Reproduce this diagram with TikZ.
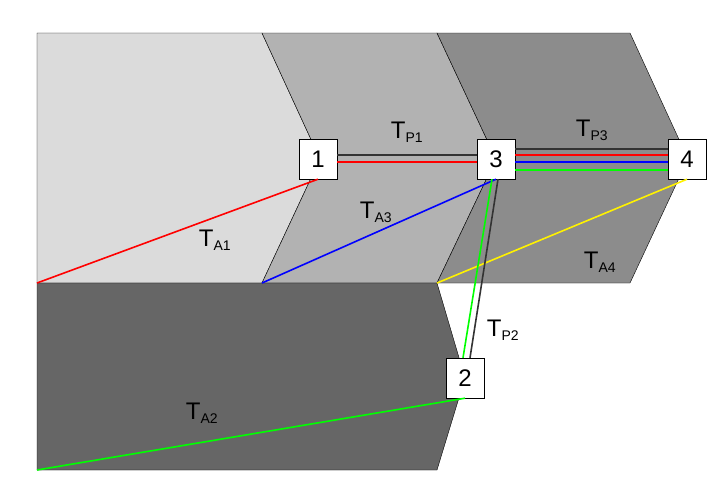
\documentclass[tikz,border=0pt]{standalone}
\usepackage{fontspec}
\setmainfont{Liberation Sans}
\tikzstyle{zone} = [draw=black, thin]
\tikzstyle{station} = [rectangle, draw=black, fill=white, minimum width=38pt, minimum height=40pt, font=\fontsize{24}{24}\selectfont, inner sep=0pt]
\tikzstyle{lbl} = [font=\fontsize{24}{24}\selectfont]
\tikzstyle{link} = [line width=1.6pt]
\newcommand{\T}[1]{T\textsubscript{\fontsize{14}{14}\selectfont #1}}

\begin{document}
\begin{tikzpicture}[x=1pt, y=-1pt]
\useasboundingbox (0,0) rectangle (712,498);

% zones
\fill[white] (0,0) rectangle (712,498);
\filldraw[zone, fill=black!14] (37,33) -- (262,33) -- (320,159) -- (262,283) -- (37,283) -- cycle;
\filldraw[zone, fill=black!30] (262,33) -- (437,33) -- (496,159) -- (437,283) -- (262,283) -- (320,159) -- cycle;
\filldraw[zone, fill=black!45] (437,33) -- (630,33) -- (688,159) -- (630,283) -- (437,283) -- (496,159) -- cycle;
\filldraw[zone, fill=black!60] (37,283) -- (437,283) -- (465,378) -- (437,470) -- (37,470) -- cycle;

% anchor points
\coordinate (a1) at (37,283);
\coordinate (a3) at (262,283);
\coordinate (a4) at (437,283);
\coordinate (a2) at (37,470);

\node (n1) [station] at (318,159) {1};
\node (n3) [station] at (496,159) {3};
\node (n4) [station] at (687,159) {4};
\node (n2) [station] at (465,378) {2};

% access links
\draw [link, red] (a1) -- (n1.south);
\draw [link, blue] (a3) -- (n3.south);
\draw [link, yellow] (a4) -- (n4.south);
\draw [link, green] (a2) -- (n2.south);

% path links
\draw [link, black!80] ([yshift=4pt]n1.east) -- ([yshift=4pt]n3.west);
\draw [link, red] ([yshift=-3pt]n1.east) -- ([yshift=-3pt]n3.west);
\draw [link, black!80] ([yshift=10pt]n3.east) -- ([yshift=10pt]n4.west);
\draw [link, red] ([yshift=4pt]n3.east) -- ([yshift=4pt]n4.west);
\draw [link, blue] ([yshift=-3pt]n3.east) -- ([yshift=-3pt]n4.west);
\draw [link, green] ([yshift=-11pt]n3.east) -- ([yshift=-11pt]n4.west);
\draw [link, black!80] ([xshift=2pt]n3.south) -- ([xshift=5pt]n2.north);
\draw [link, green] ([xshift=-4pt]n3.south) -- ([xshift=-2pt]n2.north);

\node (tp1) [lbl] at (407,132) {\T{P1}};
\node (tp3) [lbl] at (592,130) {\T{P3}};
\node (tp2) [lbl] at (503,330) {\T{P2}};
\node (ta1) [lbl] at (215,240) {\T{A1}};
\node (ta3) [lbl] at (376,212) {\T{A3}};
\node (ta4) [lbl] at (600,262) {\T{A4}};
\node (ta2) [lbl] at (202,413) {\T{A2}};
\end{tikzpicture}
\end{document}
